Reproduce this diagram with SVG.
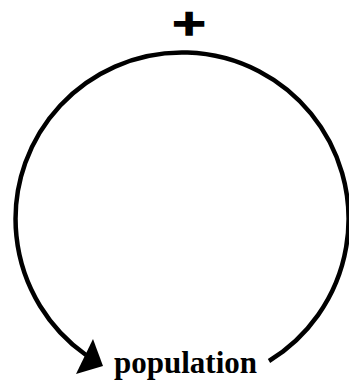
<svg xmlns="http://www.w3.org/2000/svg" width="349" height="381" viewBox="0 0 349 381">
<style>
.loop{fill:none;stroke:#000;stroke-width:4.5;stroke-linecap:butt}
.head{fill:#000}
.lbl{font-family:"Liberation Serif","Times New Roman",serif;font-weight:bold;fill:#000}
.sign{font-family:"DejaVu Sans",sans-serif;font-weight:bold;fill:#000;stroke:#000;stroke-width:2.2}
</style>
<rect width="349" height="381" fill="#fff"/>
<g id="connectors">
<path class="loop" d="M269,361 A166.5,166.5 0 1 0 86,355"/>
<polygon class="head" points="103,366 93,339 76,374"/>
</g>
<g id="polarity">
<text class="sign" x="189" y="0" text-anchor="middle" transform="translate(0,35) scale(1,0.78)" font-size="45">+</text>
</g>
<g id="population">
<text class="lbl" x="114" y="373" font-size="31">population</text>
</g>
</svg>
